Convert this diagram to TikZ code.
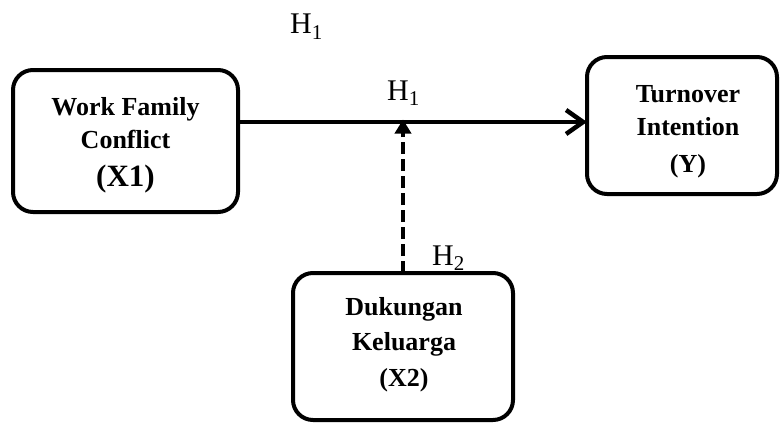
\documentclass[tikz,border=0pt]{standalone}
\usepackage{fontspec}
\setmainfont{Liberation Serif}
\usetikzlibrary{arrows.meta}
\tikzset{
  box/.style={draw=black, line width=4pt, rounded corners=20pt, inner sep=0pt},
  lbl/.style={font=\bfseries\fontsize{26}{30}\selectfont, anchor=base, inner sep=0pt},
  big/.style={font=\bfseries\fontsize{31}{36}\selectfont, anchor=base, inner sep=0pt},
  hyp/.style={font=\fontsize{30}{34}\selectfont, anchor=base west, inner sep=0pt},
  mainarrow/.style={line width=4.5pt, -{Straight Barb[length=17pt,width=24pt,line width=4.5pt]}},
  modarrow/.style={line width=4.5pt, dash pattern=on 12pt off 5pt, -{Triangle[length=14pt,width=16pt]}}
}
\begin{document}
\begin{tikzpicture}[x=1pt,y=-1pt]
\useasboundingbox (0,0) rectangle (780,423);
% boxes
\draw[box] (13,70) rectangle (238,212);
\coordinate (x1e) at (238,122);
\draw[box] (587,57) rectangle (777,194);
\coordinate (ye) at (587,122);
\draw[box] (293,273) rectangle (513,420);
\coordinate (x2t) at (403,273);
\coordinate (mid) at (403,122);
% texts
\node[lbl] (t1a) at (125.5,115) {Work Family};
\node[lbl] (t1b) at (125.5,148) {Conflict};
\node[big] (t1c) at (125.5,186) {(X1)};
\node[lbl] (t2a) at (688,102) {Turnover};
\node[lbl] (t2b) at (688,135) {Intention};
\node[lbl] (t2c) at (688,172) {(Y)};
\node[lbl] (t3a) at (404,315) {Dukungan};
\node[lbl] (t3b) at (404,350) {Keluarga};
\node[lbl] (t3c) at (404,386) {(X2)};
% connectors
\draw[mainarrow] (x1e) -- (ye);
\draw[modarrow] (x2t) -- ([yshift=2.5pt]mid);
% hypothesis labels
\node[hyp] (h1a) at (290,34) {H\textsubscript{1}};
\node[hyp] (h1b) at (387,100) {H\textsubscript{1}};
\node[hyp] (h2) at (432,265) {H\textsubscript{2}};
\end{tikzpicture}
\end{document}
